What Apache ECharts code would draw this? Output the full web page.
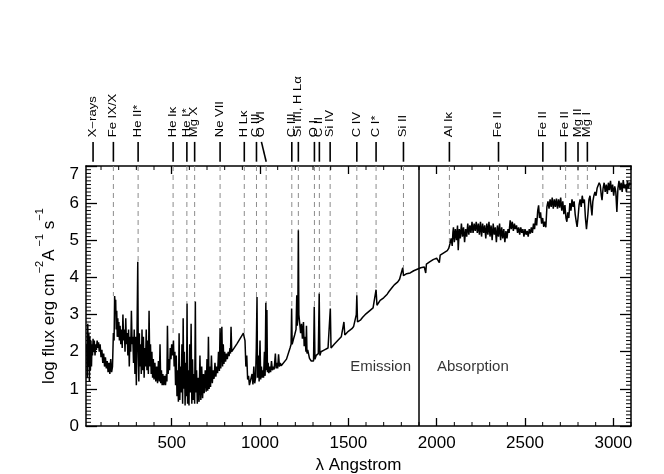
<!DOCTYPE html>
<html>
<head>
<meta charset="utf-8">
<script src="https://cdn.jsdelivr.net/npm/echarts@6/dist/echarts.min.js"></script>
<style>
html, body { margin: 0; padding: 0; background: #fff; }
#chart { width: 664px; height: 474px; }
</style>
</head>
<body>
<div id="chart"></div>
<script>
// spectrum: [wavelength (A), log flux]
var xuvSpectrum = [
    [19,2.2],[22,1.3],[25,2.75],[28,1.6],[31,2.5],[34,1.2],[37,2.4],[40,1.5],[43,2.3],[46,1.6],[49,2.2],[52,1.9],
    [55,2.35],[58,2.0],[62,2.3],[66,1.9],[70,2.2],[74,2.05],[78,2.3],[82,2.1],[86,2.25],[90,2.0],[95,2.2],[100,1.85],
    [105,2.05],[110,1.7],[115,1.95],[120,1.6],[125,1.85],[130,1.55],[135,1.75],[140,1.45],[145,1.7],[150,1.4],[155,1.8],
    [160,1.45],[165,1.6],[170,2.5],[174,2.3],[177,3.5],[180,3.3],[183,3.4],[186,2.6],[189,3.1],[192,2.4],[195,2.9],
    [198,2.4],[201,2.8],[204,2.3],[208,2.7],[212,2.2],[216,2.6],[220,2.1],[224,3.0],[228,2.3],[232,2.6],[236,2.0],
    [240,2.9],[244,2.2],[248,2.5],[252,1.9],[256,2.6],[260,1.6],[264,2.4],[268,2.0],[272,3.1],[276,2.2],[280,2.4],
    [284,1.7],[288,2.6],[292,1.4],[296,2.4],[300,1.1],[304,2.6],[308,4.42],[311,2.0],[314,1.2],[317,2.5],[320,1.6],
    [324,2.2],[328,1.4],[332,2.6],[336,1.5],[340,2.4],[344,1.3],[348,2.1],[352,1.6],[356,2.6],[360,1.5],[364,2.3],
    [368,1.4],[372,3.1],[376,1.6],[380,2.2],[384,1.4],[388,2.0],[392,1.3],[396,1.8],[400,1.25],[405,1.7],[410,1.2],
    [415,1.6],[420,1.15],[425,1.75],[430,1.2],[434,2.2],[438,1.15],[442,1.5],[446,1.1],[450,1.4],[455,1.1],[460,1.35],
    [465,1.1],[470,1.4],[473,1.2],[476,2.7],[480,1.4],[484,1.8],[488,1.5],[492,2.1],[496,1.8],[500,2.2],[505,1.9],
    [510,2.3],[514,1.6],[518,2.0],[522,1.1],[526,1.9],[530,0.8],[534,1.5],[538,0.65],[542,2.5],[546,0.7],[550,1.6],
    [554,0.9],[558,2.2],[562,0.6],[565,2.9],[568,1.0],[572,2.0],[576,0.55],[580,1.7],[584,0.8],[587,3.3],[590,0.6],
    [594,1.5],[598,0.55],[602,2.2],[606,0.9],[610,2.75],[614,0.6],[618,1.8],[622,0.7],[626,1.4],[630,0.6],[634,3.35],
    [637,0.9],[641,1.5],[645,0.6],[650,1.3],[655,0.65],[660,1.9],[665,0.7],[670,1.6],[675,0.75],[680,1.4],[684,0.88],
    [690,1.5],[695,0.92],[700,1.8],[704,0.95],[708,2.4],[712,1.0],[716,1.6],[720,1.05],[725,1.9],[730,1.15],[735,1.5],
    [740,1.27],[745,1.7],[750,1.33],[755,1.6],[760,1.42],[765,2.0],[770,1.48],[774,2.63],[778,1.55],[784,2.67],
    [788,1.6],[792,2.2],[796,1.67],[800,2.0],[805,1.73],[810,1.95],[815,1.8],[820,2.0],[825,1.88],[830,2.1],[833,1.95],
    [836,2.67],[840,2.0],[870,2.22],[906,2.5],[910,2.4],[915,2.3],[920,1.6],[925,1.9],[930,1.25],[935,1.35],[940,1.1]
];
var fuvSpectrum = [
    [945,1.15],[950,1.1],[955,1.4],[960,1.12],[965,1.6],[970,1.15],[975,1.3],[979,2.1],[983,3.47],[986,1.3],[990,1.9],
    [995,1.2],[1000,2.3],[1004,1.25],[1008,1.6],[1012,1.3],[1016,1.5],[1020,1.3],[1025,2.0],[1029,1.35],[1033,3.32],
    [1036,1.5],[1039,3.12],[1042,1.45],[1046,1.7],[1050,1.42],[1055,1.6],[1060,1.45],[1065,1.75],[1070,1.5],[1075,1.6],
    [1080,1.52],[1087,1.95],[1091,1.55],[1095,1.7],[1100,1.55],[1105,1.93],[1110,1.6],[1115,1.7],[1120,1.62],[1130,1.6],
    [1150,1.8],[1170,2.1],[1176,2.2],[1179,3.16],[1182,2.2],[1190,2.35],[1196,2.45],[1200,2.5],[1204,2.6],[1208,3.52],
    [1211,2.7],[1214,2.9],[1217,5.27],[1220,3.0],[1224,2.8],[1230,2.5],[1235,2.75],[1240,2.35],[1246,2.8],[1250,2.15],
    [1255,2.4],[1260,2.0],[1263,2.7],[1266,1.95],[1270,2.05],[1280,1.82],[1290,1.75],[1298,1.78],[1303,1.75],
    [1307,3.21],[1311,1.8],[1318,1.9],[1325,1.85],[1330,1.95],[1335,3.57],[1339,1.9],[1345,2.0],[1355,1.95],[1365,2.05],
    [1375,2.0],[1385,2.1],[1392,2.05],[1398,3.16],[1402,2.1],[1410,2.15],[1420,2.2],[1430,2.15],[1440,2.3],[1450,2.3],
    [1460,2.4],[1470,2.4],[1475,2.8],[1480,2.45],[1490,2.5],[1500,2.55],[1510,2.6],[1520,2.62],[1530,2.68],[1540,2.72],
    [1545,3.0],[1548,3.52],[1552,2.8],[1560,2.82],[1570,2.86],[1580,2.92],[1590,2.96],[1600,3.02],[1610,3.0],[1620,3.1],
    [1630,3.12],[1640,3.18],[1650,3.22],[1657,3.67],[1662,3.25],[1670,3.3],[1680,3.38],[1690,3.42],[1700,3.45],
    [1710,3.5],[1720,3.55],[1730,3.62],[1740,3.68],[1750,3.74],[1760,3.8],[1770,3.84],[1780,3.88],[1790,3.95],
    [1800,4.0],[1808,4.26],[1812,4.05],[1820,4.02],[1830,4.1],[1840,4.05],[1850,4.12],[1860,4.1],[1870,4.18],
    [1880,4.15],[1890,4.22],[1900,4.24]
];
var nuvSpectrum = [
    [1910,4.26],[1920,4.3],[1930,4.28],[1938,4.12],[1942,4.36],[1950,4.38],[1960,4.42],[1970,4.4],[1980,4.48],
    [1990,4.46],[2000,4.52],[2010,4.55],[2015,4.4],[2020,4.6],[2030,4.62],[2040,4.66],[2050,4.7],[2060,4.72],
    [2068,4.78],[2075,4.9],[2082,5.05],[2088,4.85],[2092,5.22],[2095,5.35],[2100,4.95],[2106,5.3],[2112,5.0],
    [2118,5.4],[2122,4.73],[2128,5.3],[2134,5.05],[2140,5.45],[2146,5.1],[2152,5.35],[2158,4.95],[2164,5.3],
    [2170,5.1],[2176,5.45],[2182,5.15],[2188,5.4],[2194,5.2],[2200,5.5],[2206,5.2],[2212,5.45],[2218,5.25],
    [2224,5.5],[2230,5.2],[2236,5.45],[2242,5.15],[2248,5.5],[2254,5.1],[2260,5.45],[2266,5.2],[2272,5.4],
    [2278,5.05],[2284,5.45],[2290,5.15],[2296,5.5],[2302,5.1],[2308,5.4],[2314,5.0],[2320,5.45],[2326,5.15],
    [2332,5.35],[2338,4.95],[2344,5.4],[2350,5.1],[2356,5.45],[2362,5.0],[2368,5.35],[2374,5.05],[2380,5.3],
    [2386,4.95],[2392,5.25],[2398,5.05],[2404,5.3],[2410,5.2],[2416,5.54],[2422,5.3],[2428,5.5],[2434,5.25],
    [2440,5.45],[2446,5.3],[2452,5.4],[2458,5.2],[2464,5.35],[2470,5.15],[2476,5.35],[2482,5.2],[2488,5.3],
    [2494,5.1],[2500,5.3],[2506,5.15],[2512,5.25],[2518,5.1],[2524,5.3],[2530,5.18],[2536,5.35],[2542,5.2],
    [2548,5.45],[2554,5.3],[2560,5.6],[2566,5.4],[2572,5.8],[2577,5.94],[2582,5.6],[2588,5.75],[2594,5.45],
    [2600,5.6],[2606,5.36],[2612,5.5],[2618,5.35],[2624,5.9],[2630,6.05],[2636,5.85],[2642,6.1],[2648,5.9],
    [2654,6.15],[2660,5.85],[2666,6.1],[2672,5.9],[2678,6.12],[2684,5.85],[2690,6.1],[2696,5.88],[2702,6.15],
    [2708,5.8],[2714,6.05],[2720,5.7],[2726,5.95],[2732,5.6],[2737,5.5],[2742,5.75],[2748,5.6],[2754,6.0],
    [2760,5.8],[2766,6.1],[2772,5.9],[2778,6.05],[2784,5.7],[2790,5.5],[2795,5.36],[2800,5.6],[2806,5.95],
    [2812,6.1],[2818,5.9],[2824,6.2],[2830,6.0],[2836,6.1],[2842,5.6],[2848,5.3],[2852,5.27],[2856,5.7],[2862,6.1],
    [2868,6.2],[2874,5.9],[2879,5.67],[2884,6.05],[2890,6.2],[2896,6.3],[2902,6.2],[2908,6.4],[2914,6.35],
    [2920,6.55],[2926,6.48],[2932,6.2],[2936,6.08],[2942,6.4],[2948,6.55],[2954,6.3],[2960,6.5],[2966,6.25],
    [2972,6.55],[2978,6.35],[2984,6.6],[2990,6.3],[2996,6.5],[3002,6.2],[3008,6.45],[3014,6.3],[3020,5.76],
    [3026,6.4],[3032,6.6],[3038,6.35],[3044,6.55],[3050,6.3],[3056,6.62],[3062,6.4],[3068,6.5],[3074,6.3],
    [3080,6.6],[3086,6.4],[3092,6.55],[3100,6.5]
];

// identified lines
var lineNames = ['X\u2212rays', 'Fe IX/X', 'He II*', 'He I\u03ba', 'He I*', 'Mg X', 'Ne VII', 'H L\u03ba', 'C III', 'O VI',
    'C III', 'Si III, H L\u03b1', 'O I', 'C II', 'Si IV', 'C IV', 'C I*', 'Si II', 'Al I\u03ba', 'Fe II', 'Fe II', 'Fe II',
    'Mg II', 'Mg I'];
var lineWaves = [55, 170, 310, 508, 586, 630, 774, 911, 980, 1035, 1180, 1217, 1308, 1336, 1397, 1548, 1657, 1812,
    2072, 2350, 2601, 2730, 2800, 2853];
var labelWaves = [55, 170, 310, 508, 586, 630, 774, 911, 980, 1008, 1180, 1217, 1308, 1336, 1397, 1548, 1657, 1812,
    2072, 2350, 2601, 2730, 2800, 2853];
var dashEnds = [null, 3.5, 4.42, 2.5, 3.3, 3.35, 2.6, 2.5, 3.47, 3.3, 3.16, 5.27, 3.21, 3.57, 3.16, 3.52, 3.67, 4.26,
    4.9, 5.6, 5.9, 6.1, 6.2, 6.3];

var xMajorTicks = [500, 1000, 1500, 2000, 2500, 3000];
var regionBorder = 1900;

// minor tick values: every 100 A on x, every 0.1 on y
var xMinorTicks = [];
for (var t = 100; t <= 3100; t += 100) if (t % 500) xMinorTicks.push(t);
var yMinorTicks = [];
for (var k = 1; k < 70; k++) if (k % 10) yMinorTicks.push(k / 10);

var FONT = 'Liberation Sans, Arial, Helvetica, sans-serif';
var X_MIN = 15, X_MAX = 3100, Y_MIN = 0, Y_MAX = 7;
var GRID_L = 86, GRID_R = 33, GRID_T = 166, GRID_H = 260;

var chart = echarts.init(document.getElementById('chart'));

function majorX(pos, labels) {
    return {
        type: 'value', gridIndex: 0, position: pos, min: X_MIN, max: X_MAX,
        axisLine: {show: true, onZero: false, lineStyle: {color: '#000', width: 1.5}},
        axisTick: {show: true, inside: true, length: 8, customValues: xMajorTicks, lineStyle: {color: '#000', width: 1.3}},
        axisLabel: {
            show: labels, customValues: xMajorTicks, color: '#000', fontSize: 17, fontFamily: FONT, margin: 9,
            formatter: function (v) { return String(v); }
        },
        splitLine: {show: false}
    };
}
function frameY(pos, labels) {
    return {
        type: 'value', gridIndex: 0, position: pos, min: Y_MIN, max: Y_MAX, interval: 1,
        axisLine: {show: true, onZero: false, lineStyle: {color: '#000', width: 1.5}},
        axisTick: {show: true, inside: true, length: 11, lineStyle: {color: '#000', width: 1.3}},
        axisLabel: {show: labels, color: '#000', fontSize: 17, fontFamily: FONT, margin: 7, verticalAlignMaxLabel: 'top'},
        splitLine: {show: false}
    };
}

var yName = '{n|log flux erg cm}{s|\u22122}{n|A}{s| \u22121}{n| s}{s|\u22121}';

var option = {
    backgroundColor: '#fff',
    animation: false,
    grid: [
        {left: GRID_L, right: GRID_R, top: GRID_T, height: GRID_H, outerBoundsMode: 'none'},
        {left: GRID_L, right: GRID_R, top: 80, height: 86, outerBoundsMode: 'none'}
    ]
};

option.xAxis = [
    majorX('bottom', true),
    majorX('top', false),
    {type: 'value', gridIndex: 1, min: X_MIN, max: X_MAX, show: false}
];
option.xAxis[0].name = '\u03bb Angstrom';
option.xAxis[0].nameLocation = 'middle';
option.xAxis[0].nameGap = 31;
option.xAxis[0].nameTextStyle = {color: '#000', fontSize: 17, fontFamily: FONT};

option.yAxis = [
    frameY('left', true),
    frameY('right', false),
    {type: 'value', gridIndex: 1, min: 0, max: 1, show: false}
];
option.yAxis[0].name = yName;
option.yAxis[0].nameLocation = 'middle';
option.yAxis[0].nameGap = 28;
option.yAxis[0].nameTextStyle = {
    color: '#000', fontFamily: FONT,
    rich: {
        n: {fontSize: 17, fontFamily: FONT, color: '#000', lineHeight: 24, verticalAlign: 'bottom'},
        s: {fontSize: 11, fontFamily: FONT, color: '#000', lineHeight: 11, verticalAlign: 'top'}
    }
};

var dashData = [];
lineWaves.forEach(function (w, i) {
    if (dashEnds[i] != null) dashData.push([w, dashEnds[i]]);
});

var TICK_STYLE = {stroke: '#000', lineWidth: 1};

option.series = [
    {
        // dashed guides from the frame top down to the line
        type: 'custom', xAxisIndex: 0, yAxisIndex: 0, z: 1, silent: true,
        data: dashData,
        encode: {x: 0, y: 1},
        renderItem: function (params, api) {
            var top = api.coord([api.value(0), Y_MAX]);
            var end = api.coord([api.value(0), api.value(1)]);
            return {
                type: 'line',
                shape: {x1: top[0], y1: top[1], x2: end[0], y2: end[1]},
                style: {stroke: '#8c8c8c', lineWidth: 1, lineDash: [5, 4]}
            };
        }
    },
    {
        // minor ticks on the bottom and top of the frame
        type: 'custom', xAxisIndex: 0, yAxisIndex: 0, z: 5, silent: true, clip: false,
        data: xMinorTicks.map(function (v) { return [v, Y_MIN]; }),
        encode: {x: 0, y: 1},
        renderItem: function (params, api) {
            var a = api.coord([api.value(0), Y_MIN]);
            var b = api.coord([api.value(0), Y_MAX]);
            return {type: 'group', children: [
                {type: 'line', shape: {x1: a[0], y1: a[1], x2: a[0], y2: a[1] - 4}, style: TICK_STYLE},
                {type: 'line', shape: {x1: b[0], y1: b[1], x2: b[0], y2: b[1] + 4}, style: TICK_STYLE}
            ]};
        }
    },
    {
        // minor ticks on the left and right of the frame
        type: 'custom', xAxisIndex: 0, yAxisIndex: 0, z: 5, silent: true, clip: false,
        data: yMinorTicks.map(function (v) { return [X_MIN, v]; }),
        encode: {x: 0, y: 1},
        renderItem: function (params, api) {
            var a = api.coord([X_MIN, api.value(1)]);
            var b = api.coord([X_MAX, api.value(1)]);
            return {type: 'group', children: [
                {type: 'line', shape: {x1: a[0], y1: a[1], x2: a[0] + 5, y2: a[1]}, style: TICK_STYLE},
                {type: 'line', shape: {x1: b[0], y1: b[1], x2: b[0] - 5, y2: b[1]}, style: TICK_STYLE}
            ]};
        }
    },
    {
        type: 'line', xAxisIndex: 0, yAxisIndex: 0, z: 3,
        data: xuvSpectrum.concat(fuvSpectrum, nuvSpectrum),
        showSymbol: false, symbol: 'none',
        lineStyle: {color: '#000', width: 1.5},
        markLine: {
            silent: true, symbol: ['none', 'none'],
            lineStyle: {color: '#000', type: 'solid', width: 1.5},
            label: {show: false},
            data: [{xAxis: regionBorder}]
        }
    },
    {
        type: 'scatter', xAxisIndex: 0, yAxisIndex: 0, symbolSize: 0, silent: true,
        label: {show: true, position: [0, 0], formatter: '{b}', color: '#000', fontSize: 15, fontFamily: FONT, verticalAlign: 'middle'},
        data: [
            {name: 'Emission', value: [1855, 1.6], label: {align: 'right'}},
            {name: 'Absorption', value: [2002, 1.6], label: {align: 'left'}}
        ]
    },
    {
        // line identifications above the frame
        type: 'custom', xAxisIndex: 2, yAxisIndex: 2, silent: true, clip: false,
        data: lineWaves.map(function (w, i) { return [w, labelWaves[i]]; }),
        encode: {x: 0},
        renderItem: function (params, api) {
            var bottom = api.coord([api.value(0), 0.05]);
            var top = api.coord([api.value(1), 0.28]);
            var txt = api.coord([api.value(1), 0.335]);
            return {
                type: 'group',
                children: [
                    {
                        type: 'line',
                        shape: {x1: top[0], y1: top[1], x2: bottom[0], y2: bottom[1]},
                        style: {stroke: '#000', lineWidth: 1.6}
                    },
                    {
                        type: 'text', x: txt[0], y: txt[1], rotation: Math.PI / 2, scaleX: 1.3,
                        style: {
                            text: lineNames[params.dataIndex], fill: '#000', fontSize: 10, fontFamily: FONT,
                            align: 'left', verticalAlign: 'middle'
                        }
                    }
                ]
            };
        }
    }
];

chart.setOption(option);
</script>
</body>
</html>
